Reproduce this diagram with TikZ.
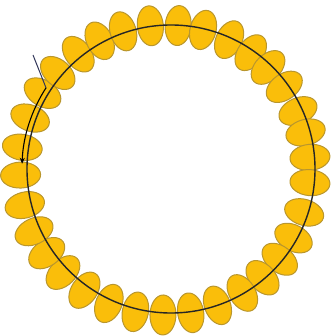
\documentclass[tikz,border=0pt]{standalone}
\usetikzlibrary{arrows.meta,shapes.geometric,calc}
\definecolor{beadfill}{RGB}{250,190,10}
\definecolor{beadline}{RGB}{185,150,45}
\definecolor{stubblue}{RGB}{50,55,90}
\begin{document}
\begin{tikzpicture}[x=1pt,y=1pt,
  bead/.style={ellipse,draw=beadline,fill=beadfill,line width=1pt,minimum width=40pt,minimum height=26pt,inner sep=0pt}]
\useasboundingbox (-165.5,-166) rectangle (165.5,170);
\foreach \a [count=\i] in {127,117,107,96,85,75,64,54,45,35,24,15,5,-5,-17,-28,-38,-48,-58,-69,-80,-91,-102,-113,-124,-135,-145,-155,-166,-178,171,159,148,138}
  \node[bead,rotate=\a] (b\i) at (\a:145) {};
\coordinate (O) at (5.5,1);
\draw[line width=1.4pt,black!85] (O) circle (144);
\coordinate (S) at (-132.5,115); \coordinate (K) at ($(O)+(147:149)$);
\draw[stubblue,line width=1pt] (S) -- (K);
\draw[line width=1.1pt,-{Stealth[length=6pt,width=5pt]}] (K) arc (147:178:149);
\end{tikzpicture}
\end{document}
